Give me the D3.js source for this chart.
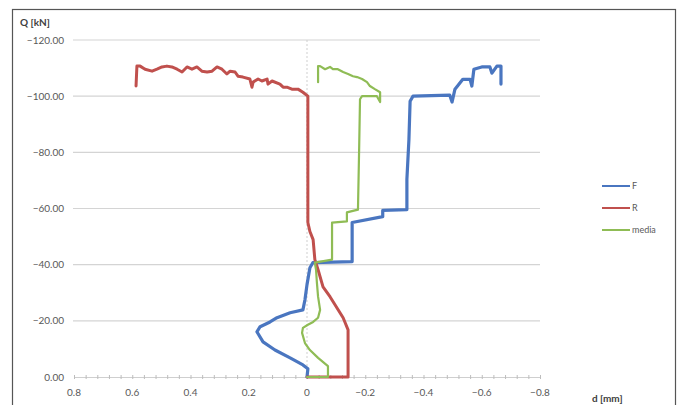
<!DOCTYPE html>
<html>
<head>
<meta charset="utf-8">
<script src="https://cdn.jsdelivr.net/npm/d3@7"></script>
<style>
  html, body { margin: 0; padding: 0; background: #fff; }
  svg { display: block; font-family: Lato, "Open Sans", sans-serif; }
</style>
</head>
<body>
<svg id="chart" width="680" height="405"></svg>
<script>
// ── Data (d in mm, Q in kN) ─────────────────────────────────
const yTicks = [0, -20, -40, -60, -80, -100, -120];
const xTicks = [0.8, 0.6, 0.4, 0.2, 0, -0.2, -0.4, -0.6, -0.8];

const seriesNames = ['F', 'R', 'media'];

const F_d = [0, -0.003, 0.014, 0.058, 0.11, 0.151, 0.172, 0.161, 0.127, 0.103, 0.058, 0.014,
  0.007, 0, -0.01, -0.02, -0.155, -0.155, -0.26, -0.26, -0.343, -0.343, -0.35, -0.354, -0.364,
  -0.49, -0.498, -0.508, -0.535, -0.56, -0.566, -0.573, -0.6, -0.628, -0.635, -0.652, -0.666, -0.666];
const F_Q = [0, -2.9, -4.3, -6.8, -9.6, -12.5, -16.1, -17.9, -19.6, -21.1, -22.9, -23.9,
  -27.5, -32.9, -38.9, -40.7, -41.1, -55, -57.1, -59.3, -59.6, -70.4, -84.6, -98.2, -100,
  -100.4, -97.9, -102.5, -106, -106, -103.6, -109.6, -110.4, -110.4, -108.2, -110.7, -110.7, -104.3];

const R_d = [0, -0.141, -0.141, -0.13, -0.124, -0.079, -0.055, -0.038, -0.027, -0.021, -0.01,
  -0.003, -0.003, -0.003, 0.014, 0.031, 0.052, 0.069, 0.082, 0.093, 0.12, 0.134, 0.137, 0.155,
  0.168, 0.185, 0.189, 0.196, 0.22, 0.237, 0.247, 0.264, 0.275, 0.292, 0.309, 0.326, 0.343,
  0.361, 0.378, 0.395, 0.412, 0.429, 0.446, 0.464, 0.481, 0.498, 0.515, 0.532, 0.556, 0.573,
  0.584, 0.587];
const R_Q = [0, 0, -16.8, -19.6, -21.1, -28.6, -32.1, -38.2, -41.8, -48.9, -51.8,
  -55, -80, -100, -101.4, -102.5, -102.5, -103.2, -103.2, -104.3, -105.4, -104.3, -106.1, -105.4,
  -106.1, -105, -103.2, -106.1, -106.8, -107.1, -108.6, -108.9, -107.9, -109.6, -110.4, -108.9, -108.6,
  -108.9, -110.4, -109.6, -110.4, -108.6, -109.6, -110.4, -110.7, -110.4, -109.6, -108.9, -109.6, -110.7,
  -110.7, -103.6];

const M_d = [0, -0.072, -0.072, -0.038, -0.01, 0.007, 0.017, 0.014, -0.003, -0.021, -0.038,
  -0.045, -0.038, -0.034, -0.031, -0.027, -0.086, -0.086, -0.137, -0.137, -0.175, -0.179, -0.182,
  -0.189, -0.24, -0.251, -0.251, -0.233, -0.216, -0.206, -0.189, -0.172, -0.158, -0.141, -0.124,
  -0.106, -0.089, -0.079, -0.062, -0.045, -0.038, -0.038];
const M_Q = [0, 0, -3.9, -6.8, -9.6, -12.1, -15.7, -17.5, -18.6, -19.6, -21.1,
  -23.9, -28.6, -33.6, -38.2, -40.7, -41.8, -55, -55.4, -58.6, -59.6, -81.1, -98.9,
  -100, -100, -97.9, -101.4, -102.5, -103.6, -105, -106.1, -106.8, -107.1, -107.9, -108.6,
  -109.6, -109.6, -110.4, -109.6, -110.7, -110.7, -105];

const COLORS = { F: '#4a76c0', R: '#c0504d', media: '#8fbc55' };
const WIDTHS = { F: 3.2, R: 3, media: 2.2 };

// ── Layout ──────────────────────────────────────────────────
const svg = d3.select('#chart');
const plot = { left: 74, right: 540, top: 40, bottom: 377 };

const x = d3.scaleLinear().domain([0.8, -0.8]).range([plot.left, plot.right]);
const y = d3.scaleLinear().domain([0, -120]).range([plot.bottom, plot.top]);

// outer frame
svg.append('rect')
  .attr('x', 12.5).attr('y', 9.5)
  .attr('width', 663).attr('height', 402)
  .attr('fill', 'none')
  .attr('stroke', '#555')
  .attr('stroke-width', 1.2);

// ── Grid + axes ─────────────────────────────────────────────
svg.append('g')
  .selectAll('line')
  .data(yTicks.filter(t => t !== 0))
  .join('line')
  .attr('x1', plot.left - 1).attr('x2', plot.right)
  .attr('y1', d => y(d)).attr('y2', d => y(d))
  .attr('stroke', '#d4d4d4')
  .attr('stroke-width', 1.2);

// vertical axis at d = 0
svg.append('line')
  .attr('x1', x(0)).attr('x2', x(0))
  .attr('y1', y(-120)).attr('y2', y(0))
  .attr('stroke', '#cfcfcf')
  .attr('stroke-dasharray', '2,2');

// horizontal axis at Q = 0 with minor ticks
const xAxis = d3.axisBottom(x)
  .tickValues(d3.range(-0.8, 0.8001, 0.04))
  .tickSize(2)
  .tickSizeOuter(0)
  .tickFormat('');
const gx = svg.append('g')
  .attr('transform', `translate(0,${y(0)})`)
  .call(xAxis);
gx.select('.domain').attr('stroke', '#cfcfcf');
gx.selectAll('.tick line').attr('stroke', '#bdbdbd').attr('y1', -2);

// tick labels
svg.append('g')
  .selectAll('text')
  .data(xTicks)
  .join('text')
  .attr('x', d => x(d))
  .attr('y', 396)
  .attr('text-anchor', 'middle')
  .attr('font-size', 10)
  .attr('fill', '#595959')
  .text(d => d === 0 ? '0' : d3.format('.1f')(d));

svg.append('g')
  .selectAll('text')
  .data(yTicks)
  .join('text')
  .attr('x', 64)
  .attr('y', d => y(d) + 3.5)
  .attr('text-anchor', 'end')
  .attr('font-size', 10)
  .attr('fill', '#595959')
  .text(d => d3.format('.2f')(d));

// axis titles
svg.append('text')
  .attr('x', 20).attr('y', 26)
  .attr('font-size', 10).attr('font-weight', 'bold')
  .attr('fill', '#404040')
  .text('Q [kN]');

svg.append('text')
  .attr('x', 592).attr('y', 402)
  .attr('font-size', 10).attr('font-weight', 'bold')
  .attr('fill', '#404040')
  .text('d [mm]');

// ── Series ──────────────────────────────────────────────────
const series = [
  { name: 'F', d: F_d, q: F_Q },
  { name: 'R', d: R_d, q: R_Q },
  { name: 'media', d: M_d, q: M_Q }
];

const line = d3.line()
  .x(p => x(p[0]))
  .y(p => y(p[1]));

svg.append('g')
  .selectAll('path')
  .data(series)
  .join('path')
  .attr('d', s => line(s.d.map((v, i) => [v, s.q[i]])))
  .attr('fill', 'none')
  .attr('stroke', s => COLORS[s.name])
  .attr('stroke-width', s => WIDTHS[s.name])
  .attr('stroke-linejoin', 'round')
  .attr('stroke-linecap', 'round');

// ── Legend ──────────────────────────────────────────────────
const legend = svg.append('g')
  .selectAll('g')
  .data(seriesNames)
  .join('g')
  .attr('transform', (d, i) => `translate(602,${186 + i * 22})`);

legend.append('line')
  .attr('x1', 0).attr('x2', 28)
  .attr('stroke', d => COLORS[d])
  .attr('stroke-width', 2);

legend.append('text')
  .attr('x', 30).attr('y', 3)
  .attr('font-size', 9)
  .attr('fill', '#595959')
  .text(d => d);
</script>
</body>
</html>
